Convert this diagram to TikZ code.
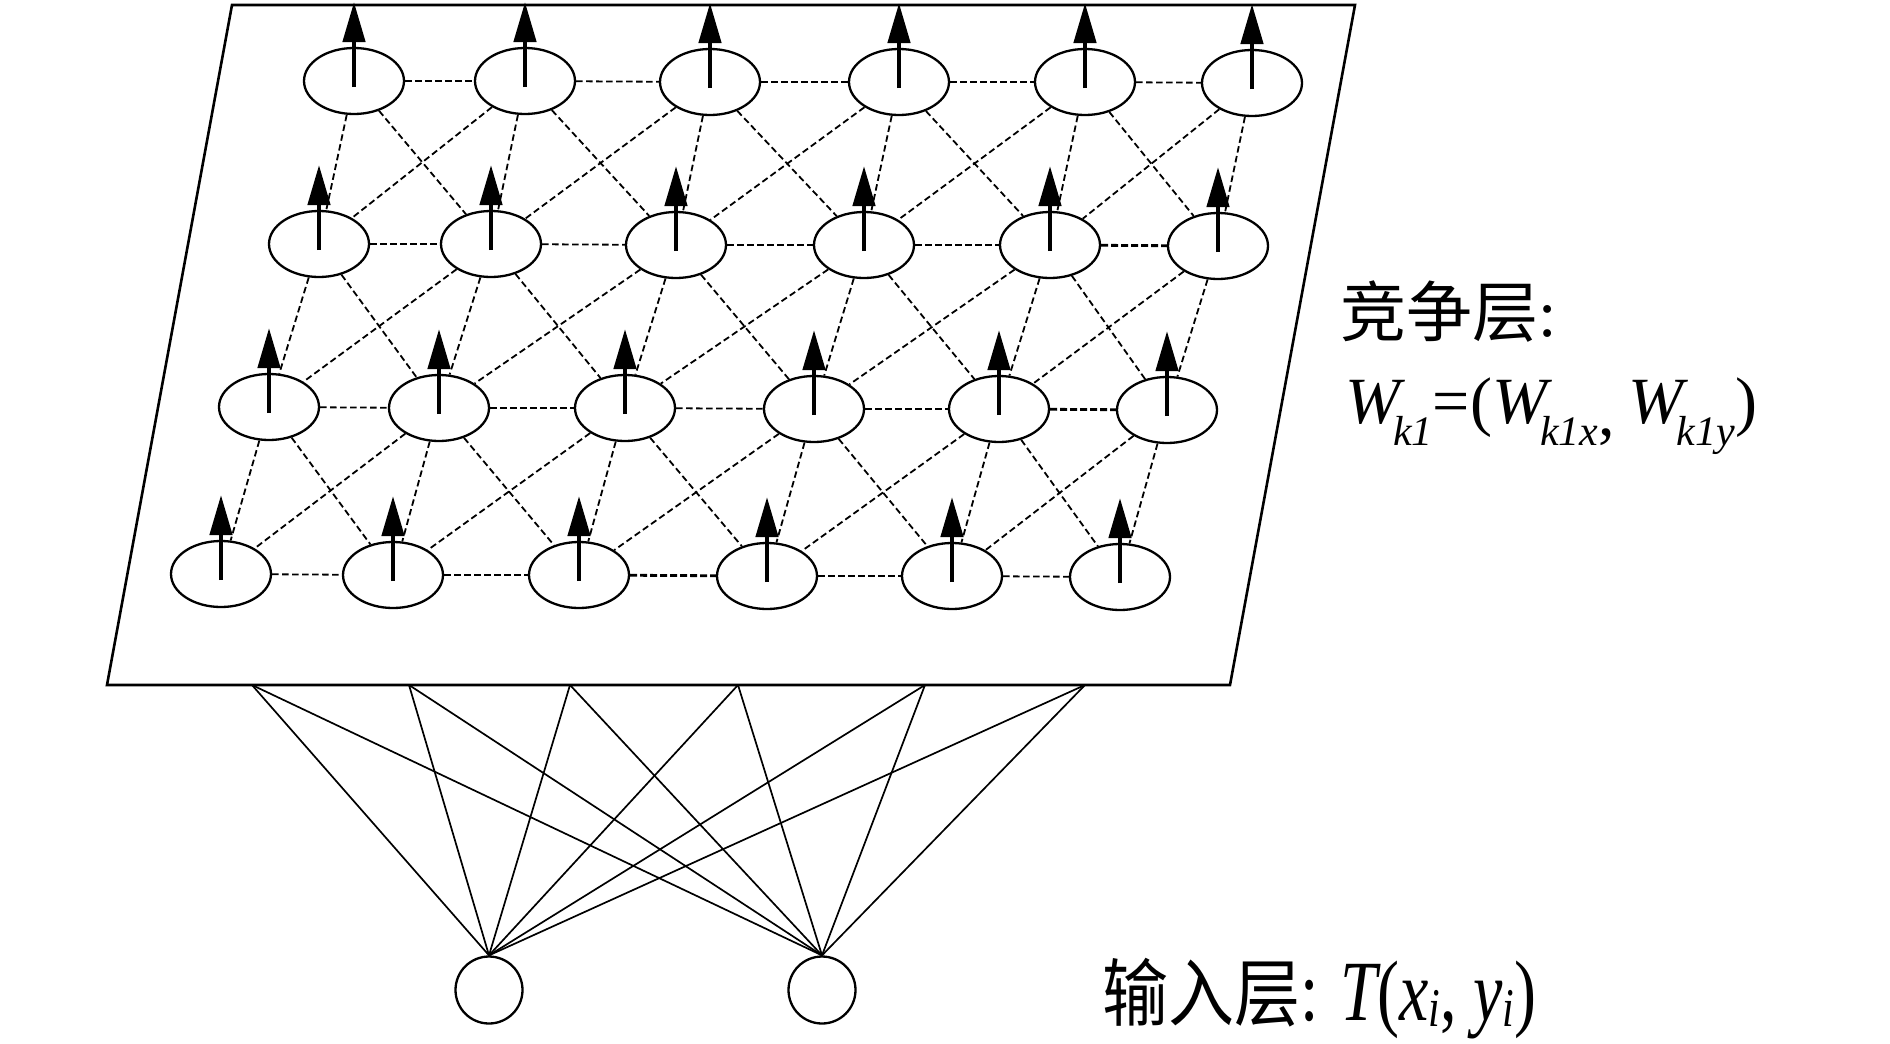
\documentclass[tikz,border=0pt]{standalone}
\usepackage{graphicx}
\usepackage{fontspec}
\setmainfont{Liberation Serif}[ItalicFont=Liberation Serif Italic]
\newfontfamily\cjk{Noto Sans CJK SC}
\usetikzlibrary{arrows.meta,shapes.geometric}
\newcommand\subsx[2][22pt]{\raisebox{-#1}{\fontsize{42}{42}\selectfont\itshape #2}}
\begin{document}
\begin{tikzpicture}[x=1pt,y=-1pt,
  neuron/.style={draw,ellipse,line width=2.3pt,minimum width=100pt,minimum height=66pt,inner sep=0pt},
  link/.style={dash pattern=on 6.5pt off 3.5pt,line width=1.8pt},
  boldlink/.style={dash pattern=on 7pt off 3pt,line width=2.8pt},
  spin/.style={line width=4.5pt,-{Triangle[length=40pt,width=22pt]}},
  plane/.style={line width=2.6pt,line join=miter},
  wire/.style={line width=1.7pt},
  inp/.style={draw,circle,line width=2.3pt,minimum size=67pt,inner sep=0pt},
  lbl/.style={font=\fontsize{66}{72}\selectfont,inner sep=0pt}
]
\useasboundingbox (0,0) rectangle (1890,1044);
% competitive layer plane
\coordinate (tl) at (232,5);
\coordinate (tr) at (1355,5);
\coordinate (br) at (1230,685);
\coordinate (bl) at (107,685);
\draw[plane] (tl) -- (tr) -- (br) -- (bl) -- cycle;
% neurons
\node[neuron] (n11) at (354,81) {};
\node[neuron] (n12) at (525,81) {};
\node[neuron] (n13) at (710,82) {};
\node[neuron] (n14) at (899,82) {};
\node[neuron] (n15) at (1085,82) {};
\node[neuron] (n16) at (1252,83) {};
\node[neuron] (n21) at (319,244) {};
\node[neuron] (n22) at (491,244) {};
\node[neuron] (n23) at (676,245) {};
\node[neuron] (n24) at (864,245) {};
\node[neuron] (n25) at (1050,245) {};
\node[neuron] (n26) at (1218,246) {};
\node[neuron] (n31) at (269,407) {};
\node[neuron] (n32) at (439,408) {};
\node[neuron] (n33) at (625,408) {};
\node[neuron] (n34) at (814,409) {};
\node[neuron] (n35) at (999,409) {};
\node[neuron] (n36) at (1167,410) {};
\node[neuron] (n41) at (221,574) {};
\node[neuron] (n42) at (393,575) {};
\node[neuron] (n43) at (579,575) {};
\node[neuron] (n44) at (767,576) {};
\node[neuron] (n45) at (952,576) {};
\node[neuron] (n46) at (1120,577) {};
% horizontal links
\foreach \a/\b/\s in {11/12/link,12/13/link,13/14/boldlink,14/15/boldlink,15/16/link,
  21/22/link,22/23/link,23/24/link,24/25/boldlink,25/26/boldlink,
  31/32/link,32/33/link,33/34/link,34/35/boldlink,35/36/boldlink,
  41/42/link,42/43/boldlink,43/44/boldlink,44/45/link,45/46/link}
  \draw[\s] (n\a) -- (n\b);
% links between rows
\foreach \r [evaluate=\r as \rr using int(\r+1)] in {1,2,3} {
  \foreach \c in {1,...,6} { \draw[link] (n\r\c) -- (n\rr\c); }
  \foreach \c [evaluate=\c as \cc using int(\c+1)] in {1,...,5} {
    \draw[link] (n\r\c) -- (n\rr\cc);
    \draw[link] (n\r\cc) -- (n\rr\c);
  }
}
% weight arrows
\foreach \r in {1,...,4} \foreach \c in {1,...,6}
  \draw[spin] ([yshift=-6pt]n\r\c.center) -- ([yshift=79pt]n\r\c.center);
% input layer
\node[inp] (in1) at (489,990) {};
\node[inp] (in2) at (822,990) {};
\coordinate (b1) at (252,685);
\coordinate (b2) at (409,685);
\coordinate (b3) at (570,685);
\coordinate (b4) at (738,685);
\coordinate (b5) at (925,685);
\coordinate (b6) at (1085,685);
\foreach \i in {1,...,6} {
  \draw[wire] (b\i) -- (in1.north);
  \draw[wire] (b\i) -- (in2.north);
}
% labels
\node[lbl,anchor=base west] (t1) at (1340,336) {{\cjk 竞争层}:};
\node[lbl,anchor=base west] (t2) at (1345,423) {\itshape W\kern-7pt\subsx{k1}\upshape=(\itshape W\kern-7pt\subsx{k1x}\upshape\raisebox{-12pt}{,}\kern14pt\itshape W\kern-7pt\subsx{k1y}\upshape)};
\node[lbl,anchor=base west] (t3) at (1102,1020) {\scalebox{1}[1.12]{\cjk 输入层}\scalebox{1}[1.3]{: \itshape T\upshape(\itshape x\subsx[5pt]{i}\upshape, \itshape y\subsx[5pt]{i}\upshape)}};
\end{tikzpicture}
\end{document}
